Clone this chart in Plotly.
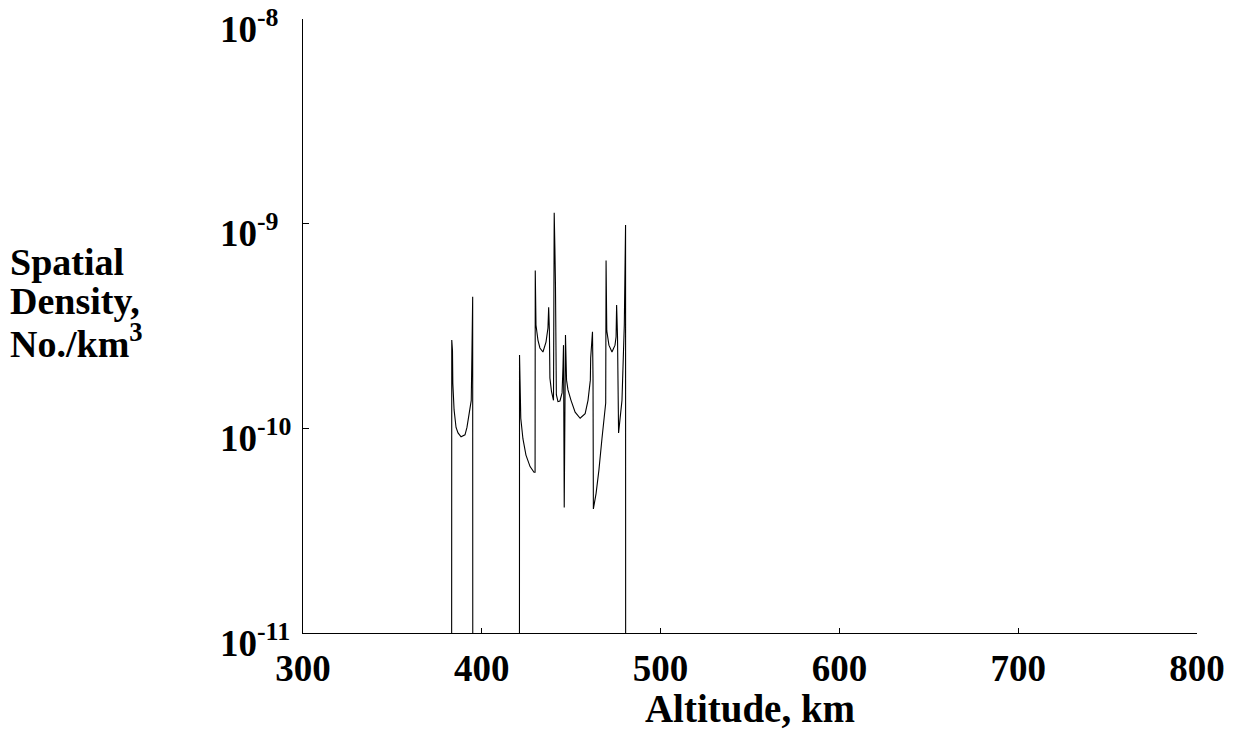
import plotly.graph_objects as go

# ---- data (altitude in km, spatial density in No./km^3) ----
# values below the axis floor (1e-13) stand for "no objects" in that bin
ZERO = 1e-13

alt_group_a = [383.05, 383.2, 383.6, 383.8, 384.5, 385.6, 386.7, 388.4, 390.6,
               391.7, 393.1, 394.1, 394.5, 394.9, 395.0]
dens_group_a = [ZERO, 2.7e-10, 2.4e-10, 1.66e-10, 1.23e-10, 1.01e-10, 9.5e-11,
                9.1e-11, 9.3e-11, 1.01e-10, 1.23e-10, 1.37e-10, 2.4e-10,
                4.4e-10, ZERO]

alt_group_b = [421.0, 421.1, 421.5, 421.8, 423.0, 424.7, 427.0, 429.2, 429.8,
               429.9, 430.3, 431.4, 432.5, 434.2, 435.9, 437.0, 437.4, 437.8,
               438.1, 439.0, 440.1, 440.5, 440.9, 441.2, 441.7, 442.6, 443.7,
               444.9, 445.4, 445.7, 446.1, 446.4, 446.8, 447.4, 448.2, 449.9,
               452.2, 455.0, 457.8, 459.4, 460.7, 460.9, 461.9, 462.2, 462.4,
               463.9, 465.5, 467.2, 468.6, 469.3, 469.5, 469.9, 471.1, 472.8,
               474.5, 475.1, 475.4, 475.9, 476.5, 477.3, 478.4, 479.7, 480.4,
               480.5]
dens_group_b = [ZERO, 2.28e-10, 1.37e-10, 1.12e-10, 8.9e-11, 7.4e-11, 6.5e-11,
                6.1e-11, 6.1e-11, 5.9e-10, 3.2e-10, 2.7e-10, 2.47e-10, 2.36e-10,
                2.64e-10, 3.09e-10, 3.9e-10, 3.0e-10, 1.76e-10, 1.51e-10,
                1.37e-10, 1.13e-9, 7.4e-10, 5.0e-10, 1.46e-10, 1.35e-10,
                1.36e-10, 1.49e-10, 2.0e-10, 2.55e-10, 4.1e-11, 9.9e-11,
                2.86e-10, 1.72e-10, 1.54e-10, 1.37e-10, 1.2e-10, 1.12e-10,
                1.18e-10, 1.37e-10, 1.72e-10, 2.21e-10, 2.96e-10, 1.78e-10,
                4.04e-11, 4.8e-11, 6.25e-11, 8.9e-11, 1.23e-10, 1.33e-10,
                6.6e-10, 3.0e-10, 2.55e-10, 2.36e-10, 2.55e-10, 2.8e-10,
                4.0e-10, 2.8e-10, 9.5e-11, 1.1e-10, 1.37e-10, 3.2e-10,
                9.86e-10, ZERO]

x_ticks = [300, 400, 500, 600, 700, 800]
y_ticks = [1e-11, 1e-10, 1e-9, 1e-8]
y_tick_exponents = [-11, -10, -9, -8]
y_title_lines = ["Spatial", "Density,", "No./km<sup>3</sup>"]

FONT = "Liberation Serif"

fig = go.Figure()
fig.add_trace(go.Scatter(
    x=alt_group_a + alt_group_b,
    y=dens_group_a + dens_group_b,
    mode="lines",
    line=dict(color="black", width=1.1),
    showlegend=False,
    hoverinfo="skip",
))

fig.update_layout(
    width=1244, height=730,
    margin=dict(l=303, r=47, t=19, b=97, autoexpand=False),
    paper_bgcolor="white", plot_bgcolor="white",
    font=dict(family=FONT, size=37, color="black", weight="bold"),
    showlegend=False,
)

fig.update_xaxes(
    range=[300, 800],
    tickvals=x_ticks,
    ticktext=[str(v) for v in x_ticks],
    ticks="inside", ticklen=5, tickwidth=1, tickcolor="black",
    showline=True, linecolor="black", linewidth=1,
    showgrid=False, zeroline=False,
    automargin=False,
    tickfont=dict(family=FONT, size=37, weight="bold"),
    ticklabelstandoff=3,
    ticklabeloverflow="allow",
    title=dict(text="Altitude, km", font=dict(family=FONT, size=39, weight="bold"), standoff=2),
)

fig.update_yaxes(
    type="log",
    range=[-11, -8],
    tickvals=y_ticks,
    showticklabels=False,
    ticks="inside", ticklen=6, tickwidth=1, tickcolor="black",
    showline=True, linecolor="black", linewidth=1,
    showgrid=False, zeroline=False,
    automargin=False,
)

# left-aligned power-of-ten tick labels, as in the reference
for e in y_tick_exponents:
    fig.add_annotation(
        xref="paper", yref="y",
        x=(218 - 303) / 894, y=e,
        xanchor="left", yanchor="middle", align="left",
        yshift=-7,
        text=f"10<sup>{e}</sup>",
        showarrow=False,
        font=dict(family=FONT, size=37, weight="bold", color="black"),
    )

for line_text, y_px in zip(y_title_lines, [262, 301, 341]):
    fig.add_annotation(
        xref="paper", yref="paper",
        x=(8 - 303) / 894, y=(633 - y_px) / 614,
        xanchor="left", yanchor="middle", align="left",
        text=line_text,
        showarrow=False,
        font=dict(family=FONT, size=38, weight="bold", color="black"),
    )

fig.write_html("out.html")
